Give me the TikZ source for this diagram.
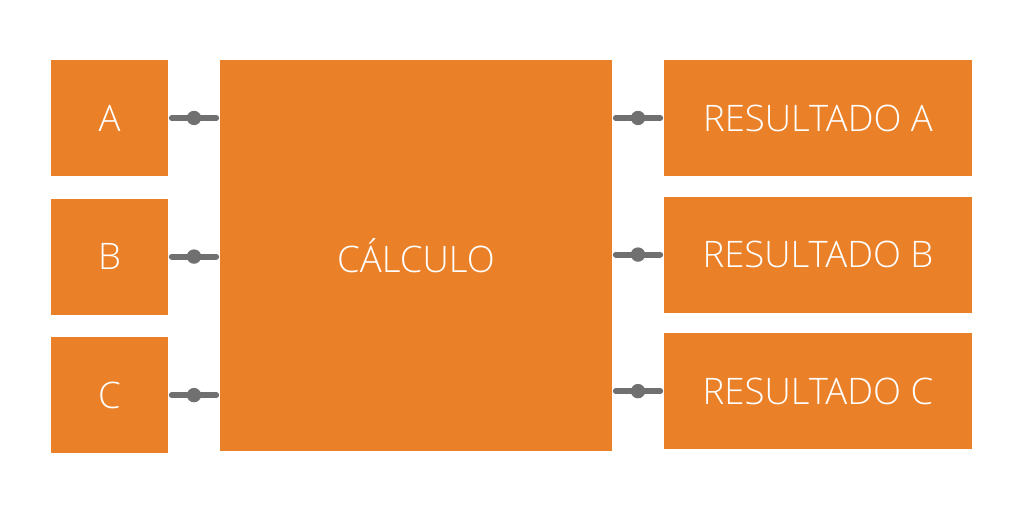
\documentclass[tikz,border=0pt]{standalone}
\usepackage{fontspec}
\setmainfont{Open Sans}[UprightFont={* Light}]
\usetikzlibrary{positioning}
\definecolor{calcorange}{HTML}{EA8028}
\definecolor{wiregray}{HTML}{707070}

\begin{document}
\begin{tikzpicture}[
    node distance=0.55cm and 1.3cm,
    inbox/.style={rectangle, fill=calcorange, text=white, minimum width=2.925cm, minimum height=2.9cm, font=\fontsize{26}{30}\selectfont},
    calcbox/.style={rectangle, fill=calcorange, text=white, minimum width=9.8cm, minimum height=9.775cm, font=\fontsize{26}{30}\selectfont},
    outbox/.style={rectangle, fill=calcorange, text=white, minimum width=7.7cm, minimum height=2.9cm, font=\fontsize{26}{30}\selectfont},
    wire/.style={draw=wiregray, line width=4.2pt, line cap=round, shorten <=2.5pt, shorten >=2.5pt},
    dot/.style={circle, fill=wiregray, inner sep=0pt, minimum size=0.36cm}
]
\useasboundingbox (0,0) rectangle (25.6,-12.8);
\node[calcbox] (calc) at (10.4,-6.3875) {CÁLCULO};
\node[inbox] (a) at (2.7375,-2.95) {A};
\node[inbox, below=of a] (b) {B};
\node[inbox, below=of b] (c) {C};
\node[outbox] (ra) at (20.45,-2.95) {RESULTADO A};
\node[outbox, below=0.5cm of ra] (rb) {RESULTADO B};
\node[outbox, below=0.5cm of rb] (rc) {RESULTADO C};
\foreach \n in {a,b,c}
    \draw[wire] (\n.east) -- node[dot] {} (calc.west |- \n);
\foreach \n in {ra,rb,rc}
    \draw[wire] (calc.east |- \n) -- node[dot] {} (\n.west);
\end{tikzpicture}
\end{document}
